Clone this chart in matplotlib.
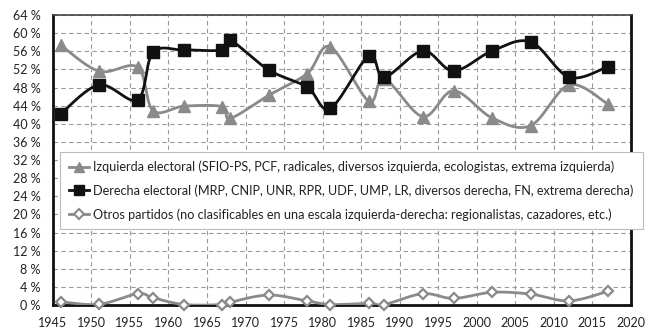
import numpy as np
import matplotlib
matplotlib.use("Agg")
import matplotlib.pyplot as plt
from matplotlib.lines import Line2D
from matplotlib.ticker import FuncFormatter

# Election years (French legislative elections)
years = [1946, 1951, 1956, 1958, 1962, 1967, 1968, 1973, 1978, 1981,
         1986, 1988, 1993, 1997, 2002, 2007, 2012, 2017]

# Share of votes (%)
izquierda = [57.4, 51.6, 52.5, 42.9, 43.9, 43.8, 41.2, 46.3, 51.1, 57.0,
             45.0, 50.0, 41.6, 47.3, 41.3, 39.6, 48.6, 44.4]
derecha = [42.2, 48.6, 45.3, 55.8, 56.3, 56.3, 58.5, 51.9, 48.1, 43.4,
           55.0, 50.3, 56.1, 51.7, 56.1, 58.1, 50.3, 52.6]
otros = [0.7, 0.15, 2.5, 1.6, 0.1, 0.1, 0.6, 2.2, 0.9, 0.1,
         0.35, 0.1, 2.5, 1.45, 2.8, 2.4, 0.9, 3.0]

labels = [
    "Izquierda electoral (SFIO-PS, PCF, radicales, diversos izquierda, ecologistas, extrema izquierda)",
    "Derecha electoral (MRP, CNIP, UNR, RPR, UDF, UMP, LR, diversos derecha, FN, extrema derecha)",
    "Otros partidos (no clasificables en una escala izquierda-derecha: regionalistas, cazadores, etc.)",
]

x_ticks = list(range(1945, 2021, 5))
y_ticks = list(range(0, 65, 4))

plt.rcParams["font.family"] = ["Lato", "DejaVu Sans"]


def smooth(xs, ys, n=30):
    """Piecewise cubic Bezier through the points (spreadsheet-style smoothing)."""
    xs = np.asarray(xs, float)
    ys = np.asarray(ys, float)
    pts = np.column_stack([xs, ys])
    out = [pts[0]]
    t = np.linspace(0, 1, n)[1:, None]
    for i in range(len(pts) - 1):
        p0 = pts[i - 1] if i > 0 else pts[i]
        p1 = pts[i]
        p2 = pts[i + 1]
        p3 = pts[i + 2] if i + 2 < len(pts) else pts[i + 1]
        c1 = p1 + (p2 - p0) / 6.0
        c2 = p2 - (p3 - p1) / 6.0
        seg = ((1 - t) ** 3) * p1 + 3 * ((1 - t) ** 2) * t * c1 + 3 * (1 - t) * t ** 2 * c2 + t ** 3 * p2
        out.extend(seg)
    out = np.array(out)
    return out[:, 0], out[:, 1]


fig = plt.figure(figsize=(6.45, 3.29), dpi=100)
ax = fig.add_axes([0.082, 0.073, 0.896, 0.881])

gray = "#8a8a8a"

sx, sy = smooth(years, izquierda)
ax.plot(sx, sy, color=gray, lw=2.0, zorder=3)
ax.plot(years, izquierda, ls="none", marker="^", ms=8, color=gray, zorder=4)

sx, sy = smooth(years, derecha)
ax.plot(sx, sy, color="#111111", lw=2.0, zorder=3)
ax.plot(years, derecha, ls="none", marker="s", ms=8, color="#111111", zorder=4)

sx, sy = smooth(years, otros)
ax.plot(sx, sy, color=gray, lw=2.0, zorder=3)
ax.plot(years, otros, ls="none", marker="D", ms=5.5, mfc="white", mec=gray, mew=1.6,
        zorder=4, clip_on=False)

ax.set_xlim(1945, 2020)
ax.set_ylim(0, 64)
ax.set_xticks(x_ticks)
ax.set_yticks(y_ticks)
ax.yaxis.set_major_formatter(FuncFormatter(lambda v, p: f"{int(v)} %"))
ax.tick_params(axis="both", length=0, labelsize=9.0, colors="#222222")
ax.tick_params(axis="y", pad=9)
ax.tick_params(axis="x", pad=9)

ax.grid(True, color="#9a9a9a", lw=0.8, ls=(0, (4, 3)), zorder=1)
ax.set_axisbelow(True)

for side in ["left", "bottom", "right"]:
    ax.spines[side].set_linewidth(2.0)
    ax.spines[side].set_color("#111111")
ax.spines["top"].set_linewidth(1.2)
ax.spines["top"].set_color("#444444")

handles = [
    Line2D([], [], color=gray, lw=2.0, marker="^", ms=7),
    Line2D([], [], color="#111111", lw=2.0, marker="s", ms=7),
    Line2D([], [], color=gray, lw=2.0, marker="D", ms=5, mfc="white", mec=gray, mew=1.5),
]
leg = ax.legend(handles, labels, loc="upper left", bbox_to_anchor=(0.0126, 0.528),
                borderaxespad=0, fontsize=9.05, frameon=True, fancybox=False,
                edgecolor="#bbbbbb", framealpha=1.0, handlelength=1.6,
                handletextpad=0.35, labelspacing=0.88, borderpad=0.7,
                labelcolor="#222222")
leg.get_frame().set_linewidth(0.8)
leg.set_zorder(5)

fig.savefig("out.png", dpi=100)
